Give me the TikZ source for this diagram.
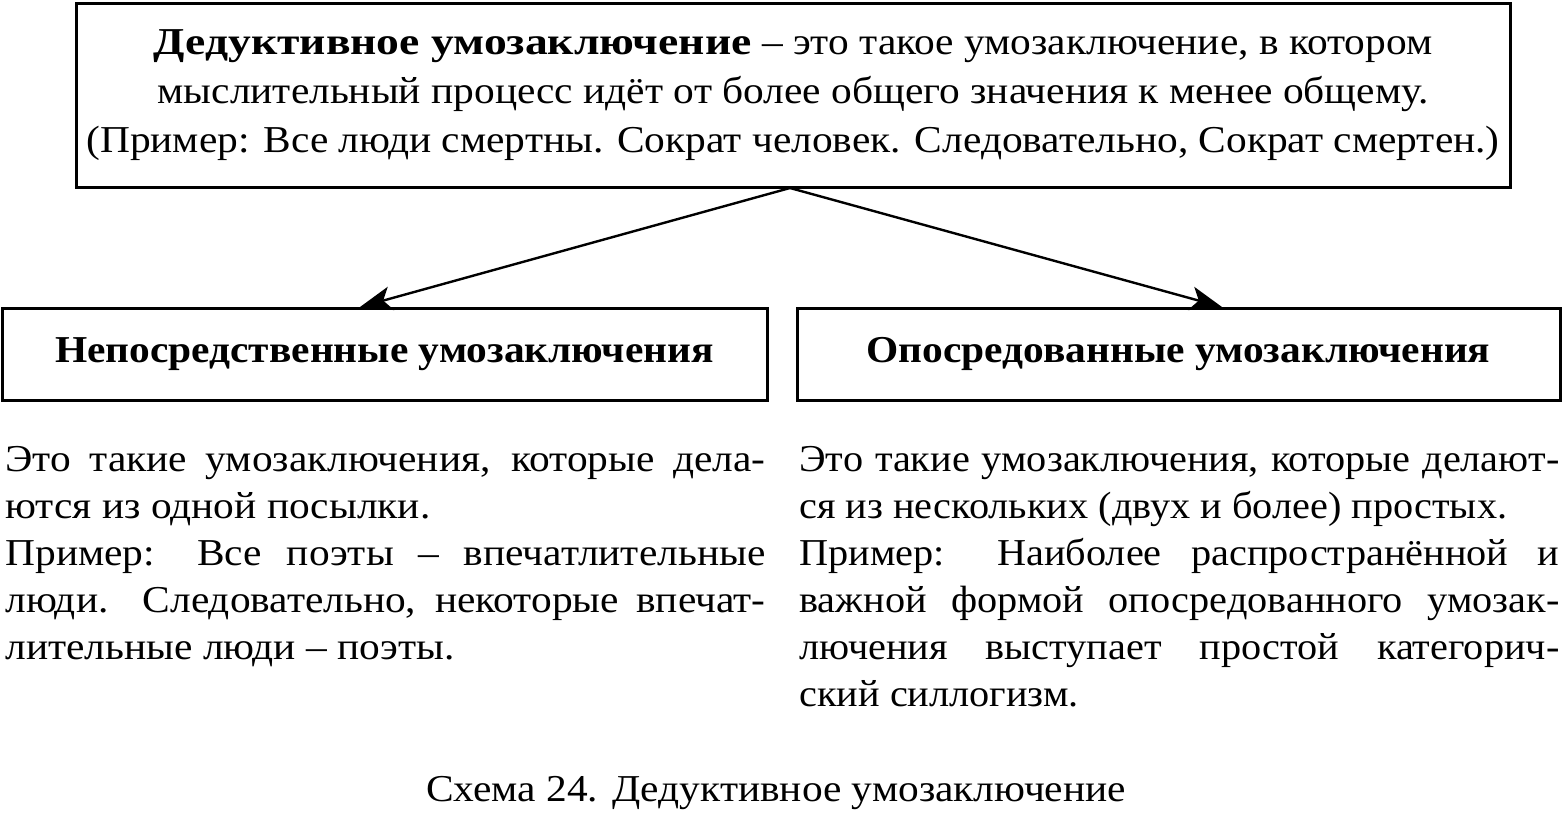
\documentclass[tikz,border=0pt]{standalone}
\usepackage{fontspec}
\setmainfont[FakeStretch=1.09]{Liberation Serif}
\usetikzlibrary{positioning, arrows.meta}

\tikzset{
  box/.style={draw, line width=1.5pt, inner sep=0pt, align=center},
  arr/.style={line width=1.2pt, -{Stealth[length=16pt,width=12pt,inset=4pt]}},
  txt/.style={anchor=north west, inner sep=0pt, text width=380pt, align=justify,
    font=\fontsize{19}{23.5}\selectfont}
}

\begin{document}
\begin{tikzpicture}[x=0.5pt,y=-0.5pt]
  \useasboundingbox (0,0) rectangle (1563,815);

  % Top box
  \node[box, minimum width=717pt, minimum height=92pt,
        font=\fontsize{19}{24.5}\selectfont] (top) at (793,95)
    {\textbf{\addfontfeature{FakeStretch=1.2}Дедуктивное умозаключение} – это такое умозаключение, в котором\\
     мыслительный процесс идёт от более общего значения к менее общему.\\
     (Пример: Все люди смертны. Сократ человек. Следовательно, Сократ смертен.)};

  % Two kinds
  \node[box, minimum width=382.5pt, minimum height=46pt,
        font=\fontsize{19}{23.5}\selectfont\bfseries] (direct) at (384.5,354)
    {Непосредственные умозаключения};
  \node[box, minimum width=381.5pt, minimum height=46pt,
        font=\fontsize{19}{23.5}\selectfont\bfseries] (mediated) at (1178.5,354)
    {Опосредованные умозаключения};

  % Arrows
  \coordinate (from) at (790,188);
  \coordinate (toleft) at (360,307);
  \coordinate (toright) at (1222,307);
  \draw[arr] (from) -- (toleft);
  \draw[arr] (from) -- (toright);

  % Descriptions
  \node[txt] (directtext) at (5,446)
    {Это такие умозаключения, которые дела-\linebreak
     ются из одной посылки.\par
     Пример: Все поэты – впечатлительные\linebreak
     люди. Следовательно, некоторые впечат-\linebreak
     лительные люди – поэты.};
  \node[txt, font=\fontsize{19}{23.5}\selectfont\addfontfeature{FakeStretch=1.06}]
    (mediatedtext) at (799,446)
    {Это такие умозаключения, которые делают-\linebreak
     ся из нескольких (двух и более) простых.\par
     Пример: Наиболее распространённой и\linebreak
     важной формой опосредованного умозак-\linebreak
     лючения выступает простой категорич-\linebreak
     ский силлогизм.};

  % Caption
  \node[font=\fontsize{19}{23.5}\selectfont] (caption) at (776,793)
    {Схема 24. Дедуктивное умозаключение};
\end{tikzpicture}
\end{document}
